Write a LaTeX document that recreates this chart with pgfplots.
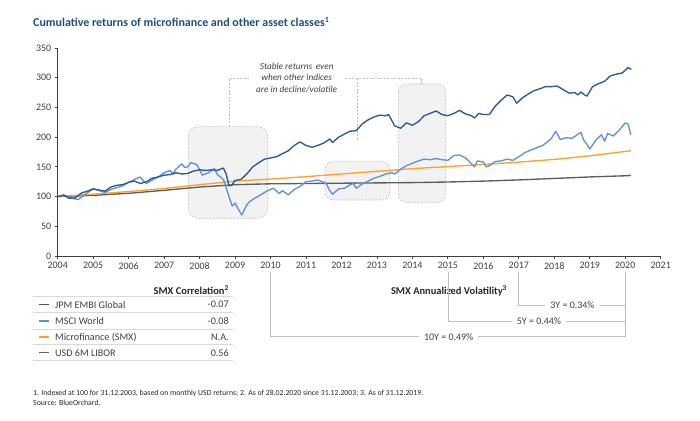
\documentclass[border=0pt]{standalone}
\usepackage{pgfplots}
\pgfplotsset{compat=1.18}
\usepackage{fontspec}
\setmainfont{Carlito}
\definecolor{titleblue}{HTML}{1F4E79}
\definecolor{embi}{HTML}{2D5990}
\definecolor{msci}{HTML}{5F93D3}
\definecolor{smx}{HTML}{FFA22B}
\definecolor{libor}{HTML}{5E5E5E}
\definecolor{txt}{HTML}{404040}
\definecolor{boxfill}{HTML}{F2F2F2}
\definecolor{boxline}{HTML}{BFBFBF}
\definecolor{rulec}{HTML}{D9D9D9}

\begin{document}
\begin{tikzpicture}
\path[use as bounding box] (0,0) rectangle (700bp,421bp);

% annotations in pixel coordinates (y down)
\begin{scope}[x=1bp,y=-1bp,shift={(0bp,421bp)}]
  \node[anchor=west, text=titleblue, font=\fontsize{12}{14}\selectfont\bfseries, inner sep=0pt]
    at (33,22) {Cumulative returns of microfinance and other asset classes\textsuperscript{1}};

  % highlight boxes
  \filldraw[fill=boxfill, draw=boxline, dashed, dash pattern=on 2bp off 1.5bp, line width=0.6bp, rounded corners=10bp]
    (188.3,126.7) rectangle (267.7,218.3);
  \filldraw[fill=boxfill, draw=boxline, dashed, dash pattern=on 2bp off 1.5bp, line width=0.6bp, rounded corners=8bp]
    (325,161.7) rectangle (390,200);
  \filldraw[fill=boxfill, draw=boxline, dashed, dash pattern=on 2bp off 1.5bp, line width=0.6bp, rounded corners=8bp]
    (398.3,84) rectangle (445.7,202.3);

  % connectors
  \draw[boxline, dash pattern=on 2bp off 1.5bp, line width=0.6bp]
    (229,126.7) -- (229,78.3) -- (249,78.3);
  \draw[boxline, dash pattern=on 2bp off 1.5bp, line width=0.6bp]
    (345,78.3) -- (421.7,78.3) -- (421.7,84);
  \draw[boxline, dash pattern=on 2bp off 1.5bp, line width=0.6bp]
    (357.3,78.3) -- (357.3,140);
  \node[align=center, text=txt, font=\fontsize{9.3}{11.5}\selectfont\itshape]
    at (296.7,77.7) {Stable returns\, even\\when other indices\\are in decline/volatile};

  % correlation table
  \foreach \yy in {296.7,312.7,329.3,345,360.7}
    \draw[rulec, line width=1bp] (33.3,\yy) -- (233.3,\yy);
  \node[anchor=east, font=\fontsize{10.5}{12}\selectfont\bfseries, text=black!85, inner sep=0pt]
    at (229,290) {SMX Correlation\textsuperscript{2}};
  \foreach \yy/\col/\lab/\val in {304.7/embi/JPM EMBI Global/-0.07, 320.9/msci/MSCI World/-0.08,
      337.1/smx/Microfinance (SMX)/N.A., 352.8/libor/USD 6M LIBOR/0.56}{
    \draw[\col, line width=1.3bp] (39,\yy) -- (49,\yy);
    \node[anchor=west, font=\fontsize{10.2}{12}\selectfont, text=txt, inner sep=0pt] at (55,\yy) {\lab};
    \node[anchor=east, font=\fontsize{10.2}{12}\selectfont, text=txt, inner sep=0pt] at (229,\yy) {\val};
  }

  % volatility brackets
  \node[font=\fontsize{10.5}{12}\selectfont\bfseries, text=black!85] at (449,291) {SMX Annualized Volatility\textsuperscript{3}};
  \draw[boxline, line width=0.8bp] (518.8,272) -- (518.8,305) -- (625.2,305);
  \draw[boxline, line width=0.8bp] (447.9,272) -- (447.9,321) -- (625.2,321);
  \draw[boxline, line width=0.8bp] (270.5,272) -- (270.5,336.7) -- (625.2,336.7) -- (625.2,272);
  \node[fill=white, inner xsep=5bp, inner ysep=1bp, font=\fontsize{10}{12}\selectfont, text=txt] at (572.5,305) {3Y = 0.34\%};
  \node[fill=white, inner xsep=5bp, inner ysep=1bp, font=\fontsize{10}{12}\selectfont, text=txt] at (539,321) {5Y = 0.44\%};
  \node[fill=white, inner xsep=5bp, inner ysep=1bp, font=\fontsize{10}{12}\selectfont, text=txt] at (448.7,336.7) {10Y = 0.49\%};

  % footnotes
  \node[anchor=west, font=\fontsize{7.8}{9}\selectfont, text=black!85, inner sep=0pt] at (33,393)
    {1. Indexed at 100 for 31.12.2003, based on monthly USD returns; 2. As of 28.02.2020 since 31.12.2003; 3. As of 31.12.2019.};
  \node[anchor=west, font=\fontsize{7.8}{9}\selectfont, text=black!85, inner sep=0pt] at (33,403)
    {Source: BlueOrchard.};
\end{scope}

\begin{axis}[
  at={(57.7bp,165bp)}, anchor=south west,
  scale only axis, width=603bp, height=208bp,
  xmin=2004, xmax=2021, ymin=0, ymax=350,
  axis x line*=bottom, axis y line*=left,
  xtick={2004,2005,...,2021}, ytick={0,50,...,350},
  tick align=outside, major tick length=3bp,
  xticklabel style={/pgf/number format/set thousands separator={}},
  tick label style={font=\fontsize{10}{11}\selectfont, text=txt},
  /pgf/number format/assume math mode=true,
  axis line style={txt, line width=0.8bp},
  tick style={txt, line width=0.8bp},
  every axis plot/.append style={line width=1.35bp, mark=none, line join=round},
]

\addplot[libor] coordinates {
  (2004,100) (2005,102) (2006,105.5) (2007,110.5) (2008,116) (2009,120)
  (2010,121.5) (2011,122) (2012,122.5) (2013,123) (2014,123.5) (2015,124.5)
  (2016,126) (2017,128) (2018,130.5) (2019,133) (2020,135) (2020.16,135.5)
};

\addplot[smx] coordinates {
  (2004,100) (2005,104) (2006,108.5) (2007,113.5) (2008,120) (2009,126)
  (2010,129.5) (2011,133.5) (2012,138) (2013,142.5) (2014,147) (2015,150.5)
  (2016,154) (2017,158) (2018,162.5) (2019,168.5) (2020,176) (2020.16,177)
};

\addplot[msci] coordinates {
  (2004.00,100) (2004.17,103) (2004.33,98) (2004.50,96) (2004.58,95) (2004.67,99)
  (2004.83,106) (2005.00,113) (2005.17,110) (2005.33,107) (2005.50,112) (2005.67,115)
  (2005.83,118) (2006.00,124) (2006.17,129) (2006.33,133) (2006.42,126) (2006.50,122)
  (2006.67,128) (2006.83,133) (2007.00,140) (2007.17,144) (2007.25,138) (2007.33,146)
  (2007.50,155) (2007.58,149) (2007.67,150) (2007.75,157) (2007.92,154) (2008.08,136)
  (2008.25,140) (2008.42,147) (2008.50,137) (2008.67,129) (2008.75,115) (2008.83,100)
  (2008.92,84) (2009.00,89) (2009.08,80) (2009.19,69) (2009.33,86) (2009.42,92)
  (2009.58,98) (2009.75,104) (2009.92,110) (2010.08,114) (2010.25,105) (2010.33,110)
  (2010.50,103) (2010.67,112) (2010.83,117) (2011.00,125) (2011.17,126) (2011.33,128)
  (2011.50,124) (2011.58,121) (2011.67,110) (2011.75,104) (2011.92,113) (2012.08,114)
  (2012.25,120) (2012.33,122) (2012.42,114) (2012.58,121) (2012.75,126) (2012.92,131)
  (2013.08,134) (2013.25,138) (2013.42,140) (2013.50,138) (2013.67,146) (2013.83,152)
  (2014.00,156) (2014.17,160) (2014.33,163) (2014.50,162) (2014.67,164) (2014.83,162)
  (2015.00,161) (2015.17,169) (2015.33,170) (2015.50,165) (2015.67,155) (2015.75,150)
  (2015.83,160) (2016.00,158) (2016.08,150) (2016.17,152) (2016.33,159) (2016.50,160)
  (2016.67,163) (2016.83,161) (2017.00,167) (2017.17,174) (2017.33,178) (2017.50,182)
  (2017.67,186) (2017.83,193) (2017.92,198) (2018.04,210) (2018.17,196) (2018.33,199)
  (2018.50,198) (2018.67,205) (2018.75,208) (2018.83,195) (2018.92,188) (2019.00,180)
  (2019.17,195) (2019.33,204) (2019.42,193) (2019.50,206) (2019.67,202) (2019.83,212)
  (2019.92,218) (2020.00,224) (2020.08,222) (2020.16,204)
};

\addplot[embi] coordinates {
  (2004.00,100) (2004.17,102) (2004.33,97) (2004.50,98) (2004.67,106) (2004.83,109)
  (2005.00,113) (2005.17,111) (2005.33,109) (2005.50,116) (2005.67,119) (2005.83,120)
  (2006.00,124) (2006.17,126) (2006.33,122) (2006.50,125) (2006.67,131) (2006.83,133)
  (2007.00,136) (2007.17,137) (2007.33,140) (2007.50,138) (2007.67,139) (2007.83,143)
  (2008.00,145) (2008.17,144) (2008.33,145) (2008.50,144) (2008.67,148) (2008.75,138)
  (2008.83,118) (2008.92,120) (2009.00,127) (2009.17,129) (2009.33,138) (2009.50,150)
  (2009.67,157) (2009.83,163) (2010.00,165) (2010.17,167) (2010.33,172) (2010.50,177)
  (2010.67,186) (2010.83,192) (2011.00,186) (2011.17,183) (2011.33,186) (2011.50,190)
  (2011.67,197) (2011.75,191) (2011.92,200) (2012.08,205) (2012.25,210) (2012.42,211)
  (2012.58,222) (2012.75,229) (2012.92,234) (2013.08,237) (2013.25,236) (2013.33,238)
  (2013.50,219) (2013.67,215) (2013.83,224) (2014.00,220) (2014.17,226) (2014.33,236)
  (2014.50,240) (2014.67,244) (2014.83,238) (2015.00,236) (2015.17,240) (2015.33,245)
  (2015.50,239) (2015.67,236) (2015.75,232) (2015.87,240) (2016.00,238) (2016.17,238)
  (2016.33,252) (2016.50,262) (2016.67,271) (2016.83,268) (2016.94,257) (2017.08,265)
  (2017.25,272) (2017.42,278) (2017.58,281) (2017.75,285) (2017.92,285) (2018.08,286)
  (2018.25,280) (2018.42,274) (2018.58,275) (2018.67,271) (2018.75,276) (2018.83,272)
  (2018.92,269) (2019.08,285) (2019.25,290) (2019.42,294) (2019.58,303) (2019.75,306)
  (2019.92,308) (2020.08,317) (2020.17,314)
};

\end{axis}
\end{tikzpicture}
\end{document}
